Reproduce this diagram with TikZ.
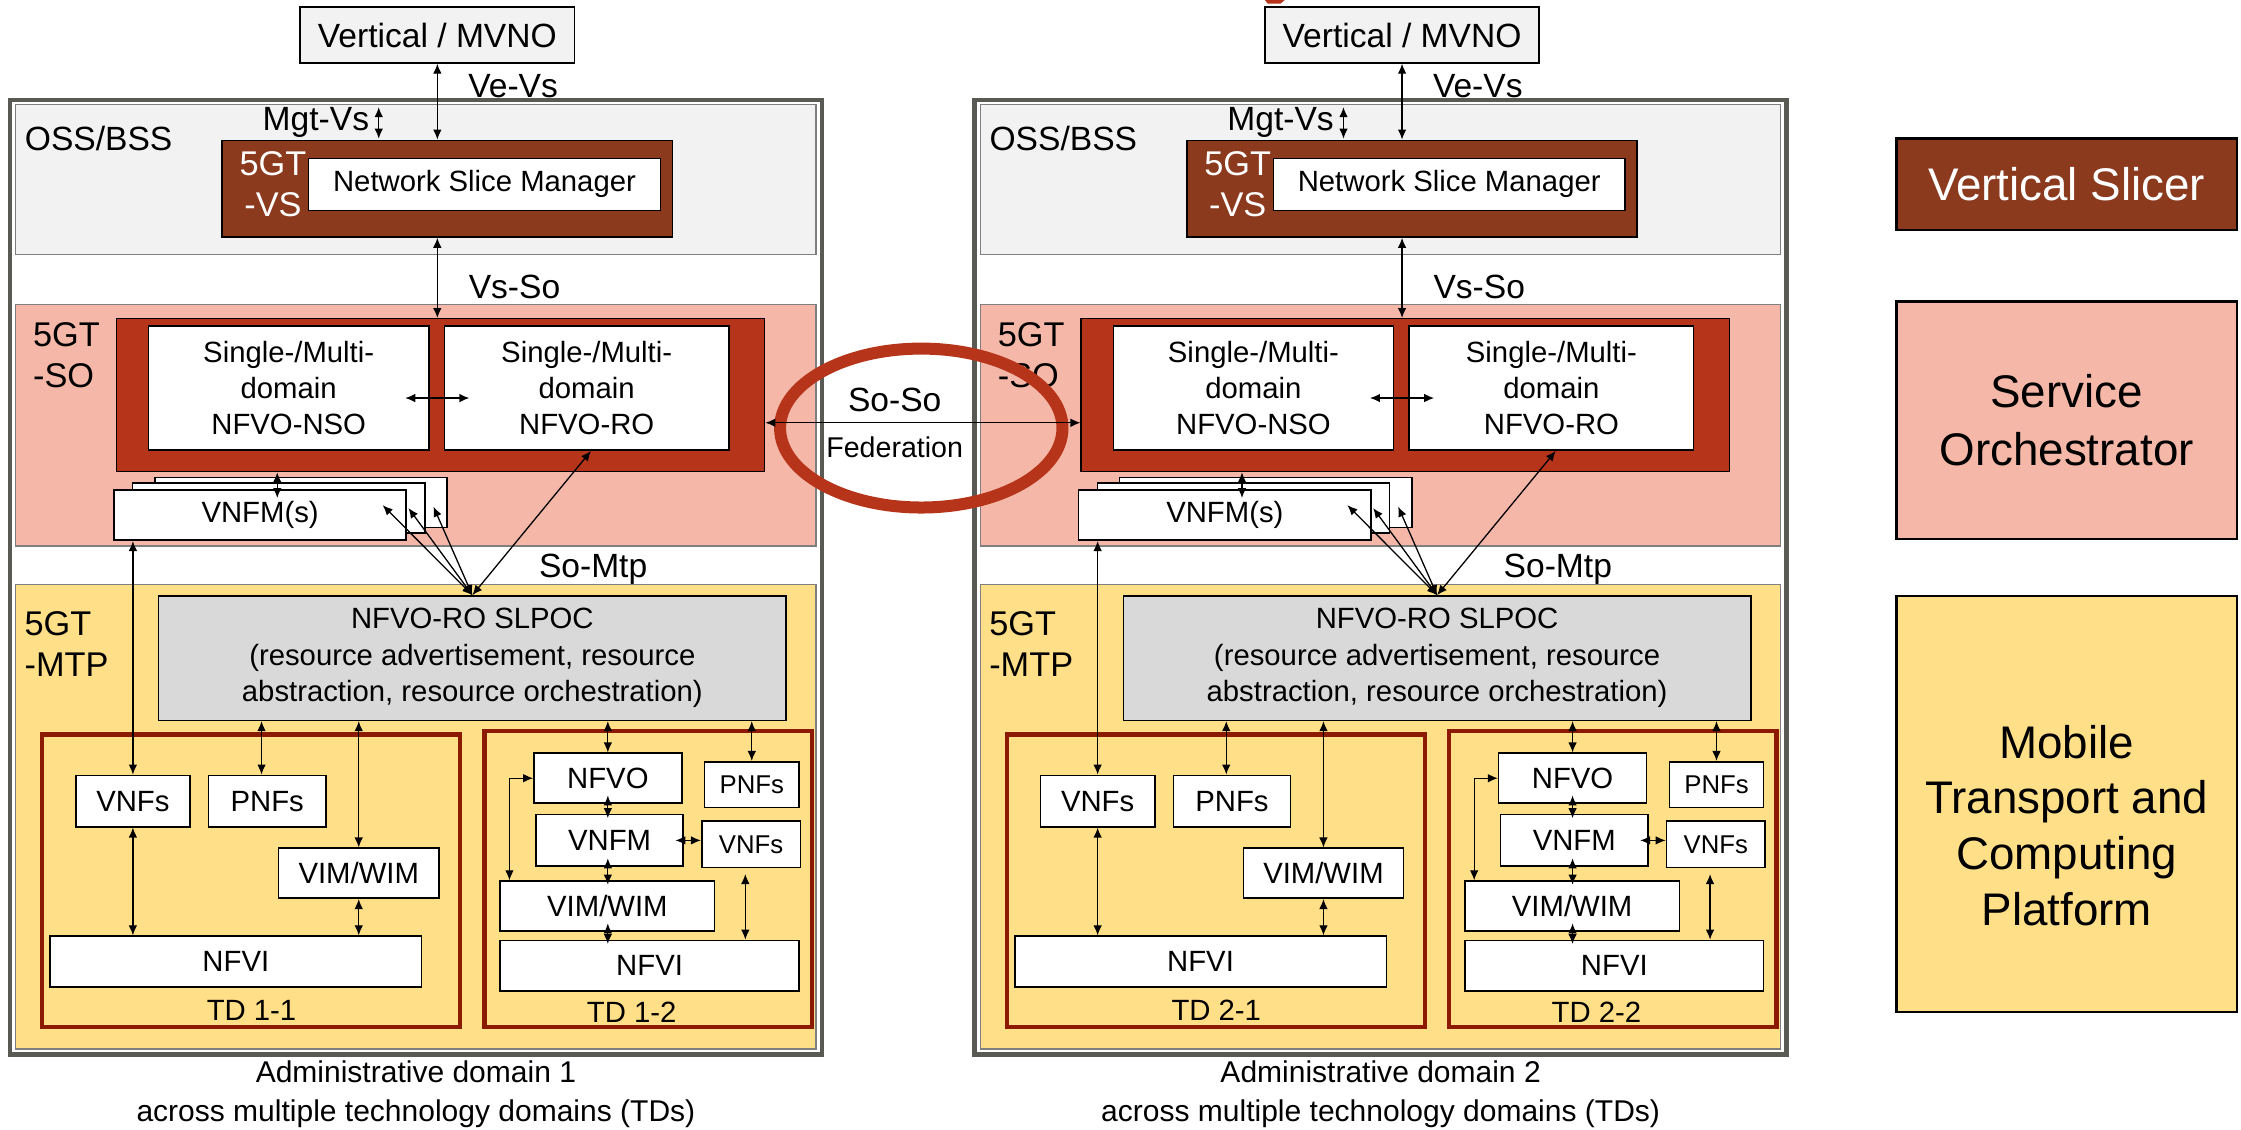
\documentclass[tikz,border=0pt]{standalone}
\usepackage{fontspec}
\setmainfont{Liberation Sans}
\usetikzlibrary{arrows.meta,calc}
\newcommand\myfs[2]{\fontsize{#1}{#2}\selectfont}
\definecolor{vsbrown}{HTML}{8B3A1E}
\definecolor{sored}{HTML}{B5341A}
\definecolor{pinkreg}{HTML}{F5B7A7}
\definecolor{yellreg}{HTML}{FFDF87}
\definecolor{grayreg}{HTML}{F2F2F2}
\definecolor{slpocgray}{HTML}{D9D9D9}
\definecolor{tdred}{HTML}{8B1A00}
\definecolor{outergray}{HTML}{5A5A54}
\definecolor{regline}{HTML}{7F7F7F}
\begin{document}
\begin{tikzpicture}[x=1pt,y=-1pt,
  ah/.tip={Latex[length=7pt,width=6pt]},
  dbl/.style={ah-ah,line width=0.9pt,draw=black},
  wbox/.style={draw=black,line width=1.1pt,fill=white,inner sep=0pt,align=center,font=\myfs{20.5}{25}},
  sbox/.style={wbox,font=\myfs{18}{22}},
  region/.style={draw=regline,line width=0.9pt,inner sep=0pt},
  lbl/.style={inner sep=0pt,font=\myfs{23.5}{28},align=center},
  tdbox/.style={draw=tdred,line width=3pt,inner sep=0pt},
  legendbox/.style={draw=black,line width=1.6pt,inner sep=0pt,minimum width=238,align=center,font=\myfs{32}{40}}
]
\useasboundingbox (0,0) rectangle (1568,790);

\foreach \p/\dx/\n in {L/0/1,R/675/2}{
\begin{scope}[xshift=\dx pt]
  % domain frame and regions
  \node[draw=outergray,line width=3.2pt,fill=white,minimum width=568,minimum height=668,inner sep=0pt] (\p-dom) at (291,404) {};
  \node[region,fill=grayreg,minimum width=560,minimum height=105] (\p-oss) at (291,125.5) {};
  \node[region,fill=pinkreg,minimum width=560,minimum height=169] (\p-sor) at (291,297.5) {};
  \node[region,fill=yellreg,minimum width=560,minimum height=325] (\p-mtp) at (291,571.5) {};
  \node[lbl] (\p-osst) at (69,97) {OSS/BSS};
  % vertical
  \node[wbox,fill=grayreg,minimum width=192,minimum height=39,font=\myfs{23.5}{28}] (\p-vm) at (306,24.5) {Vertical / MVNO};
  % VS
  \node[draw=black,line width=1.2pt,fill=vsbrown,minimum width=315,minimum height=67.5,inner sep=0pt] (\p-vs) at (313,132) {};
  \node[wbox,minimum width=246,minimum height=36.5] (\p-nsm) at (339,129) {Network Slice Manager};
  \node[lbl,text=white,font=\myfs{24}{28.5}] (\p-vst) at (191,129) {5GT\\-VS};
  \draw[dbl] (\p-vm.south) -- (\p-vm.south |- \p-vs.north);
  \node[lbl] (\p-vevs) at (359,60) {Ve-Vs};
  \node[lbl] (\p-mgt) at (221,86) {Mgt-Vs};
  \coordinate (\p-mg1) at (265,75);
  \coordinate (\p-mg2) at (265,97);
  \draw[dbl] (\p-mg1) -- (\p-mg2);
  % SO
  \node[draw=black,line width=1pt,fill=sored,minimum width=453.5,minimum height=107,inner sep=0pt] (\p-so) at (308.25,276.5) {};
  \draw[dbl] (\p-vm.south |- \p-vs.south) -- (\p-vm.south |- \p-so.north);
  \node[lbl] (\p-vsso) at (360,201) {Vs-So};
  \node[wbox,minimum width=196,minimum height=87] (\p-nso) at (202,271.5) {Single-/Multi-\\domain\\NFVO-NSO};
  \node[wbox,minimum width=199,minimum height=87] (\p-ro) at (410.5,271.5) {Single-/Multi-\\domain\\NFVO-RO};
  \draw[dbl] ($(\p-nso.east)+(-17,7)$) -- ($(\p-ro.west)+(18,7)$);
  \node[lbl,anchor=west,align=left,font=\myfs{24}{29}] (\p-sot) at (23,248.5) {5GT\\-SO};
  % VNFM stack
  \node[wbox,minimum width=204.5,minimum height=35] (\p-v3) at (210.5,351.5) {};
  \node[wbox,minimum width=204.5,minimum height=35] (\p-v2) at (195,355.5) {};
  \node[wbox,minimum width=204.5,minimum height=35] (\p-v1) at (182,360.5) {VNFM(s)};
  \coordinate (\p-c1) at ($(\p-v1.north)+(12,6)$);
  \draw[dbl] (\p-c1 |- \p-so.south) -- (\p-c1);
  % MTP
  \node[wbox,fill=slpocgray,minimum width=439,minimum height=87,font=\myfs{20.5}{25.5}] (\p-slpoc) at (330.5,460.5) {NFVO-RO SLPOC\\(resource advertisement, resource\\abstraction, resource orchestration)};
  \draw[dbl] (\p-slpoc.north) -- ($(\p-v1.east)+(-17,-7)$);
  \draw[dbl] (\p-slpoc.north) -- ($(\p-v2.east)+(-12,0)$);
  \draw[dbl] (\p-slpoc.north) -- ($(\p-v3.east)+(-10,3)$);
  \draw[dbl] (\p-slpoc.north) -- ($(\p-ro.south)+(3,0)$);
  \node[lbl] (\p-somtp) at (415,398) {So-Mtp};
  \node[lbl,anchor=west,align=left,font=\myfs{24}{29}] (\p-mtpt) at (17,450.5) {5GT\\-MTP};
  % TD x-1
  \node[tdbox,minimum width=292.5,minimum height=204.5] (\p-td1) at (175.75,616.25) {};
  \node[wbox,minimum width=80,minimum height=36] (\p-a1) at (93,560.5) {VNFs};
  \node[wbox,minimum width=82,minimum height=36] (\p-b1) at (187,560.5) {PNFs};
  \node[wbox,minimum width=112,minimum height=35] (\p-vim1) at (251,611) {VIM/WIM};
  \node[wbox,minimum width=260,minimum height=35.6] (\p-nfvi1) at (165,672.8) {NFVI};
  \node[lbl,font=\myfs{20.5}{25}] (\p-td1t) at (176,707) {TD \n-1};
  \draw[dbl] (\p-v1.south -| \p-a1.north) -- (\p-a1.north);
  \coordinate (\p-c2) at ($(\p-b1.north)+(-4,0)$);
  \draw[dbl] (\p-c2 |- \p-slpoc.south) -- (\p-c2);
  \draw[dbl] (\p-vim1.north |- \p-slpoc.south) -- (\p-vim1.north);
  \draw[dbl] (\p-a1.south) -- (\p-a1.south |- \p-nfvi1.north);
  \draw[dbl] (\p-vim1.south) -- (\p-vim1.south |- \p-nfvi1.north);
  % TD x-2
  \node[tdbox,minimum width=229,minimum height=207] (\p-td2) at (453.5,615) {};
  \node[wbox,minimum width=103.4,minimum height=35] (\p-nf) at (425.3,544.5) {NFVO};
  \node[sbox,minimum width=66,minimum height=32] (\p-b2) at (526,549) {PNFs};
  \node[wbox,minimum width=103,minimum height=36] (\p-vn) at (426.5,588) {VNFM};
  \node[sbox,minimum width=69,minimum height=32.5] (\p-a2) at (525.5,590.75) {VNFs};
  \node[wbox,minimum width=150,minimum height=35] (\p-vim2) at (425,634) {VIM/WIM};
  \node[wbox,minimum width=209,minimum height=35.5] (\p-nfvi2) at (454.5,675.75) {NFVI};
  \node[lbl,font=\myfs{20.5}{25}] (\p-td2t) at (442,708) {TD \n-2};
  \draw[dbl] (\p-nf.north |- \p-slpoc.south) -- (\p-nf.north);
  \draw[dbl] (\p-b2.north |- \p-slpoc.south) -- (\p-b2.north);
  \draw[dbl] ($(\p-nf.south)+(0,-6)$) -- ($(\p-nf.south |- \p-vn.north)+(0,3)$);
  \draw[dbl] ($(\p-nf.south |- \p-vn.south)+(0,-6)$) -- ($(\p-nf.south |- \p-vim2.north)+(0,3)$);
  \draw[dbl] ($(\p-nf.south |- \p-vim2.south)+(0,-6)$) -- ($(\p-nf.south |- \p-nfvi2.north)+(0,3)$);
  \draw[dbl] ($(\p-vn.east)+(-6,0)$) -- (\p-vn.east -| \p-a2.west);
  \coordinate (\p-c3) at ($(\p-a2.south)+(-4,4)$);
  \draw[dbl] (\p-c3) -- (\p-c3 |- \p-nfvi2.north);
  \draw[dbl] (\p-nf.west) -| ($(\p-vim2.north west)+(7,0)$);
  % caption
  \node[lbl,font=\myfs{21}{27}] (\p-cap) at (291,765.5) {Administrative domain \n\\across multiple technology domains (TDs)};
\end{scope}
}

% federation
\draw[sored,line width=8.4pt] (644.6,299.5) ellipse [x radius=98.8, y radius=55.6];
\draw[dbl] ($(L-so.east)+(0,19.3)$) -- ($(R-so.west)+(0,19.3)$);
\node[lbl] (soso) at (626,280) {So-So};
\node[lbl,font=\myfs{20}{24}] (fed) at (626,313) {Federation};

% small sliver at top
\fill[sored] (885,0) -- (899,0) -- (896,2.5) -- (887,2.5) -- cycle;

% legend
\node[legendbox,fill=vsbrown,minimum height=64,text=white] (lg1) at (1446,129) {Vertical Slicer};
\node[legendbox,fill=pinkreg,minimum height=166] (lg2) at (1446,294) {};
\node[lbl,font=\myfs{32}{40}] (lg2t) at (1446,294) {Service\\Orchestrator};
\node[legendbox,fill=yellreg,minimum height=291] (lg3) at (1446,562.5) {};
\node[lbl,font=\myfs{32}{39}] (lg3t) at (1446,577.5) {Mobile\\Transport and\\Computing\\Platform};
\end{tikzpicture}
\end{document}
